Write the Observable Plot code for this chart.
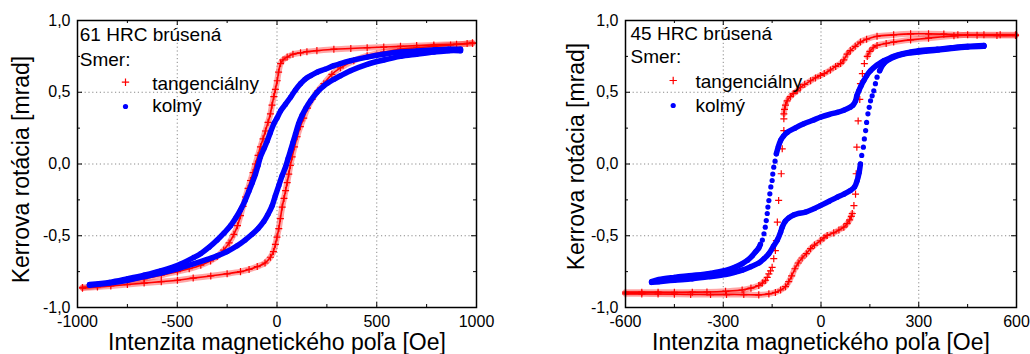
<!DOCTYPE html>
<html>
<head>
<meta charset="utf-8">
<script src="https://cdn.jsdelivr.net/npm/d3@7"></script>
<script src="https://cdn.jsdelivr.net/npm/@observablehq/plot@0.6"></script>
<style>
  body { margin: 0; background: #fff; }
  #wrap { display: flex; width: 1030px; height: 354px; }
  #wrap svg { display: block; }
</style>
</head>
<body>
<div id="wrap"></div>
<script>
// ---------- text ----------
const yLabelText = "Kerrova rotácia [mrad]";
const xLabelText = "Intenzita magnetického poľa [Oe]";
const legendHead = "Smer:";
const seriesNames = ["tangenciálny", "kolmý"];
const titleLeft = "61 HRC brúsená";
const titleRight = "45 HRC brúsená";

// ---------- ticks ----------
const yMajor = [-1, -0.5, 0, 0.5, 1];
const yMinor = [-0.75, -0.25, 0.25, 0.75];
const yGrid = [-0.5, 0, 0.5];
const xMajorLeft = [-1000, -500, 0, 500, 1000];
const xMinorLeft = [-750, -250, 250, 750];
const xGridLeft = [-500, 0, 500];
const xMajorRight = [-600, -300, 0, 300, 600];
const xMinorRight = [-450, -150, 150, 450];
const xGridRight = [-300, 0, 300];

// ---------- data: 61 HRC (left) [field Oe, Kerr rotation mrad] ----------
const hrc61TangDown = [[980,0.84],[900,0.835],[786,0.83],[700,0.825],[619,0.82],[535,0.815],[452,0.81],[370,0.805],[285,0.80],[200,0.79],[150,0.783],[118,0.775],[80,0.765],[51,0.745],[30,0.725],[18,0.70],[8,0.64],[1,0.58],[-8,0.52],[-16,0.47],[-25,0.41],[-33,0.35],[-45,0.29],[-58,0.23],[-70,0.175],[-83,0.12],[-95,0.06],[-108,0.0],[-120,-0.06],[-133,-0.115],[-145,-0.17],[-158,-0.23],[-170,-0.295],[-183,-0.36],[-198,-0.43],[-216,-0.49],[-240,-0.55],[-267,-0.60],[-300,-0.645],[-333,-0.675],[-382,-0.705],[-440,-0.73],[-499,-0.75],[-580,-0.775],[-666,-0.80],[-750,-0.82],[-833,-0.835],[-900,-0.85],[-975,-0.86]];
const hrc61TangUp = [[-975,-0.865],[-900,-0.857],[-833,-0.85],[-750,-0.84],[-666,-0.83],[-580,-0.82],[-499,-0.81],[-420,-0.795],[-332,-0.78],[-250,-0.765],[-183,-0.75],[-140,-0.735],[-99,-0.715],[-60,-0.69],[-33,-0.65],[-18,-0.61],[-8,-0.56],[0,-0.51],[9,-0.45],[17,-0.38],[26,-0.30],[35,-0.24],[43,-0.185],[51,-0.13],[59,-0.07],[67,-0.01],[76,0.05],[88,0.12],[101,0.19],[117,0.26],[134,0.32],[153,0.39],[176,0.45],[205,0.51],[235,0.56],[275,0.625],[318,0.67],[385,0.72],[452,0.755],[535,0.78],[619,0.80],[700,0.81],[786,0.82],[870,0.83],[953,0.84],[980,0.845]];
const hrc61PerpDown = [[920,0.80],[860,0.80],[786,0.795],[700,0.787],[619,0.78],[535,0.765],[452,0.745],[370,0.72],[318,0.70],[285,0.685],[240,0.66],[201,0.64],[168,0.615],[140,0.59],[118,0.56],[92,0.515],[68,0.465],[42,0.415],[18,0.37],[0,0.32],[-16,0.28],[-33,0.22],[-49,0.16],[-66,0.105],[-83,0.05],[-95,-0.01],[-108,-0.07],[-124,-0.13],[-141,-0.19],[-160,-0.255],[-183,-0.32],[-206,-0.375],[-233,-0.43],[-265,-0.48],[-300,-0.53],[-340,-0.58],[-383,-0.625],[-415,-0.65],[-480,-0.695],[-583,-0.745],[-666,-0.775],[-749,-0.80],[-840,-0.825],[-940,-0.84]];
const hrc61PerpUp = [[-940,-0.845],[-840,-0.83],[-749,-0.81],[-666,-0.785],[-583,-0.76],[-500,-0.73],[-415,-0.695],[-350,-0.665],[-300,-0.64],[-250,-0.61],[-200,-0.57],[-160,-0.53],[-125,-0.49],[-95,-0.45],[-66,-0.40],[-45,-0.35],[-24,-0.29],[-8,-0.22],[9,-0.15],[26,-0.08],[43,-0.02],[56,0.04],[68,0.094],[80,0.15],[93,0.21],[108,0.28],[126,0.34],[145,0.39],[168,0.44],[201,0.50],[235,0.545],[285,0.59],[318,0.615],[368,0.65],[452,0.695],[535,0.725],[619,0.75],[700,0.765],[786,0.78],[860,0.79],[920,0.79]];

// ---------- data: 45 HRC (right) ----------
const hrc45TangDown = [[597,0.895],[540,0.895],[479,0.897],[420,0.90],[377,0.905],[330,0.907],[275,0.907],[223,0.90],[172,0.89],[140,0.87],[121,0.85],[105,0.82],[90,0.79],[80,0.765],[70,0.725],[60,0.70],[45,0.68],[29,0.655],[10,0.63],[-2,0.617],[-17,0.60],[-32,0.58],[-50,0.555],[-63,0.535],[-73,0.51],[-85,0.49],[-94,0.47],[-104,0.44],[-109,0.41],[-112,0.38],[-114,0.35]];
const hrc45TangDownJump = [[-114,0.315],[-114,0.233],[-119,0.106],[-122,-0.068],[-130,-0.254],[-134,-0.405],[-137,-0.533],[-140,-0.603],[-145,-0.66],[-150,-0.72],[-155,-0.745],[-160,-0.765],[-165,-0.79]];
const hrc45TangDownTail = [[-170,-0.81],[-180,-0.83],[-191,-0.847],[-215,-0.865],[-242,-0.878],[-293,-0.887],[-350,-0.892],[-395,-0.893],[-450,-0.894],[-500,-0.893],[-550,-0.893],[-600,-0.893]];
const hrc45TangUp = [[-600,-0.905],[-550,-0.905],[-500,-0.906],[-450,-0.907],[-400,-0.909],[-339,-0.91],[-290,-0.91],[-237,-0.91],[-191,-0.912],[-160,-0.905],[-140,-0.895],[-124,-0.878],[-109,-0.855],[-99,-0.82],[-90,-0.78],[-80,-0.73],[-70,-0.69],[-58,-0.655],[-45,-0.625],[-32,-0.59],[-20,-0.565],[-2,-0.535],[9,-0.515],[19,-0.498],[39,-0.48],[55,-0.46],[70,-0.44],[80,-0.415],[88,-0.39],[93,-0.365],[96,-0.345]];
const hrc45TangUpJump = [[101,-0.29],[106,-0.21],[108,-0.068],[110,0.117],[114,0.30],[119,0.45],[121,0.56],[127,0.63],[133,0.70]];
const hrc45TangUpTail = [[142,0.75],[150,0.785],[160,0.81],[172,0.826],[200,0.84],[223,0.85],[275,0.865],[330,0.877],[408,0.893],[450,0.90],[500,0.90],[550,0.90],[597,0.90]];
const hrc45PerpDown = [[500,0.826],[450,0.82],[400,0.81],[357,0.80],[300,0.79],[275,0.78],[254,0.77],[223,0.75],[203,0.73],[193,0.72],[172,0.69],[152,0.65],[140,0.615],[131,0.58],[123,0.545],[116,0.51],[110,0.475],[106,0.44],[98,0.41],[90,0.396],[70,0.375],[50,0.36],[25,0.345],[-2,0.326],[-25,0.305],[-53,0.28],[-80,0.25],[-104,0.22],[-115,0.195],[-124,0.164],[-131,0.12],[-137,0.071]];
const hrc45PerpDownJump = [[-141,0.02],[-145,-0.022],[-148,-0.07],[-150,-0.115],[-154,-0.16],[-157,-0.208],[-160,-0.255],[-163,-0.30],[-165,-0.345],[-168,-0.394],[-171,-0.44],[-175,-0.486],[-180,-0.53]];
const hrc45PerpDownTail = [[-186,-0.56],[-191,-0.585],[-200,-0.61],[-211,-0.64],[-225,-0.67],[-242,-0.695],[-265,-0.72],[-293,-0.742],[-340,-0.762],[-395,-0.777],[-450,-0.79],[-498,-0.805],[-520,-0.82]];
const hrc45PerpUp = [[-520,-0.825],[-498,-0.82],[-450,-0.81],[-395,-0.80],[-340,-0.785],[-293,-0.77],[-265,-0.755],[-242,-0.74],[-215,-0.715],[-191,-0.69],[-175,-0.66],[-160,-0.625],[-145,-0.57],[-134,-0.53],[-124,-0.475],[-119,-0.44],[-110,-0.40],[-99,-0.375],[-84,-0.355],[-70,-0.345],[-48,-0.335],[-20,-0.31],[-2,-0.29],[25,-0.26],[50,-0.231],[70,-0.21],[90,-0.185],[103,-0.16],[111,-0.115],[117,-0.06],[121,0.0]];
const hrc45PerpUpJump = [[125,0.06],[130,0.117],[133,0.175],[137,0.233],[140,0.29],[144,0.35],[148,0.395],[152,0.44],[157,0.475],[162,0.51],[167,0.56],[172,0.605]];
const hrc45PerpUpTail = [[180,0.65],[193,0.70],[210,0.73],[223,0.745],[250,0.765],[275,0.775],[320,0.785],[360,0.795],[400,0.805],[450,0.815],[500,0.82]];

// ---------- drawing ----------
const RED = "#ff0000", BLUE = "#0000ff";
const W = 515, H = 354, MT = 20, MB = 47;
const fx = d => d[0], fy = d => d[1];
const fmtY = d => d.toFixed(1).replace(".", ",");

function chart(o) {
  const fw = W - o.mL - o.mR, fh = H - MT - MB;
  const marks = [];
  marks.push(Plot.gridX(o.xGrid, {stroke: "#8a8a8a", strokeOpacity: 1, strokeDasharray: "1.2,2.6"}));
  marks.push(Plot.gridY(yGrid, {stroke: "#8a8a8a", strokeOpacity: 1, strokeDasharray: "1.2,2.6"}));
  // red (tangential)
  for (const b of o.redLines) {
    marks.push(Plot.line(b, {x: fx, y: fy, stroke: RED, strokeOpacity: 0.35, strokeWidth: 6, curve: "catmull-rom", strokeLinecap: "round"}));
    marks.push(Plot.line(b, {x: fx, y: fy, stroke: RED, strokeWidth: 1.6, curve: "catmull-rom"}));
  }
  for (const b of o.redLines.concat(o.redJumps)) {
    marks.push(Plot.dot(b, {x: fx, y: fy, symbol: "plus", stroke: RED, r: 2.4, strokeWidth: 1.2}));
  }
  // blue (perpendicular)
  for (const b of o.blueLines) {
    marks.push(Plot.line(b, {x: fx, y: fy, stroke: BLUE, strokeWidth: 5.5, curve: "catmull-rom", strokeLinecap: "round", strokeLinejoin: "round"}));
  }
  for (const b of o.blueLines.concat(o.blueJumps)) {
    marks.push(Plot.dot(b, {x: fx, y: fy, fill: BLUE, r: 2.6}));
  }
  // frame + inward ticks on all four sides
  marks.push(Plot.frame({stroke: "#000", strokeWidth: 1.5}));
  marks.push(Plot.ruleX(o.xMajor, {insetTop: fh - 5, stroke: "#000"}));
  marks.push(Plot.ruleX(o.xMajor, {insetBottom: fh - 5, stroke: "#000"}));
  marks.push(Plot.ruleX(o.xMinor, {insetTop: fh - 3, stroke: "#000"}));
  marks.push(Plot.ruleX(o.xMinor, {insetBottom: fh - 3, stroke: "#000"}));
  marks.push(Plot.ruleY(yMajor, {insetRight: fw - 5, stroke: "#000"}));
  marks.push(Plot.ruleY(yMajor, {insetLeft: fw - 5, stroke: "#000"}));
  marks.push(Plot.ruleY(yMinor, {insetRight: fw - 3, stroke: "#000"}));
  marks.push(Plot.ruleY(yMinor, {insetLeft: fw - 3, stroke: "#000"}));
  // tick labels
  marks.push(Plot.axisX({ticks: o.xMajor, tickSize: 0, tickPadding: 8, tickFormat: d => String(d), fontSize: 16, label: null}));
  marks.push(Plot.axisY({ticks: yMajor, tickSize: 0, tickPadding: 7, tickFormat: fmtY, fontSize: 16, label: null}));
  // axis titles
  marks.push(Plot.text([xLabelText], {text: d => d, frameAnchor: "bottom", textAnchor: "middle", lineAnchor: "bottom", dy: 42.5, fontSize: 23, fill: "#000"}));
  marks.push(Plot.text([yLabelText], {text: d => d, frameAnchor: "left", textAnchor: "middle", rotate: -90, lineAnchor: "bottom", dx: o.yLabDx, dy: o.yLabDy, fontSize: 23, fill: "#000"}));
  // in-plot legend
  const L = o.leg;
  const t = (s, dx, dy) => Plot.text([s], {text: d => d, frameAnchor: "top-left", textAnchor: "start", lineAnchor: "bottom", dx, dy, fontSize: 19, fill: "#000"});
  marks.push(t(o.title, L.tx, L.t1));
  marks.push(t(legendHead, L.tx, L.t2));
  marks.push(t(seriesNames[0], L.sx, L.t3));
  marks.push(t(seriesNames[1], L.sx, L.t4));
  marks.push(Plot.dot([seriesNames[0]], {frameAnchor: "top-left", dx: L.mx, dy: L.m1, symbol: "plus", stroke: RED, r: 2.5, strokeWidth: 1.2}));
  marks.push(Plot.dot([seriesNames[1]], {frameAnchor: "top-left", dx: L.mx, dy: L.m2, fill: BLUE, r: 2.6}));

  return Plot.plot({
    width: W, height: H,
    marginLeft: o.mL, marginRight: o.mR, marginTop: MT, marginBottom: MB,
    x: {domain: o.xDomain, nice: false},
    y: {domain: [-1, 1], nice: false},
    style: {fontFamily: "'Liberation Sans', Arial, sans-serif", fontSize: "16px", color: "#000", background: "#fff", overflow: "visible"},
    marks
  });
}

const left = chart({
  mL: 77, mR: 39, xDomain: [-1000, 1000],
  xMajor: xMajorLeft, xMinor: xMinorLeft, xGrid: xGridLeft,
  redLines: [hrc61TangDown, hrc61TangUp], redJumps: [],
  blueLines: [hrc61PerpDown, hrc61PerpUp], blueJumps: [],
  yLabDx: -49, yLabDy: 5.5, title: titleLeft,
  leg: {tx: 2.3, sx: 74.7, mx: 48, t1: 20.7, t2: 45, t3: 69.3, t4: 91.7, m1: 61.7, m2: 86}
});
const right = chart({
  mL: 110, mR: 14, xDomain: [-600, 600],
  xMajor: xMajorRight, xMinor: xMinorRight, xGrid: xGridRight,
  redLines: [hrc45TangDown, hrc45TangDownTail, hrc45TangUp, hrc45TangUpTail], redJumps: [hrc45TangDownJump, hrc45TangUpJump],
  blueLines: [hrc45PerpDown, hrc45PerpDownTail, hrc45PerpUp, hrc45PerpUpTail], blueJumps: [hrc45PerpDownJump, hrc45PerpUpJump],
  yLabDx: -42, yLabDy: -7.5, title: titleRight,
  leg: {tx: 5, sx: 70, mx: 47.7, t1: 19, t2: 42.7, t3: 67.3, t4: 91, m1: 60, m2: 85}
});
document.getElementById("wrap").append(left, right);
</script>
</body>
</html>
